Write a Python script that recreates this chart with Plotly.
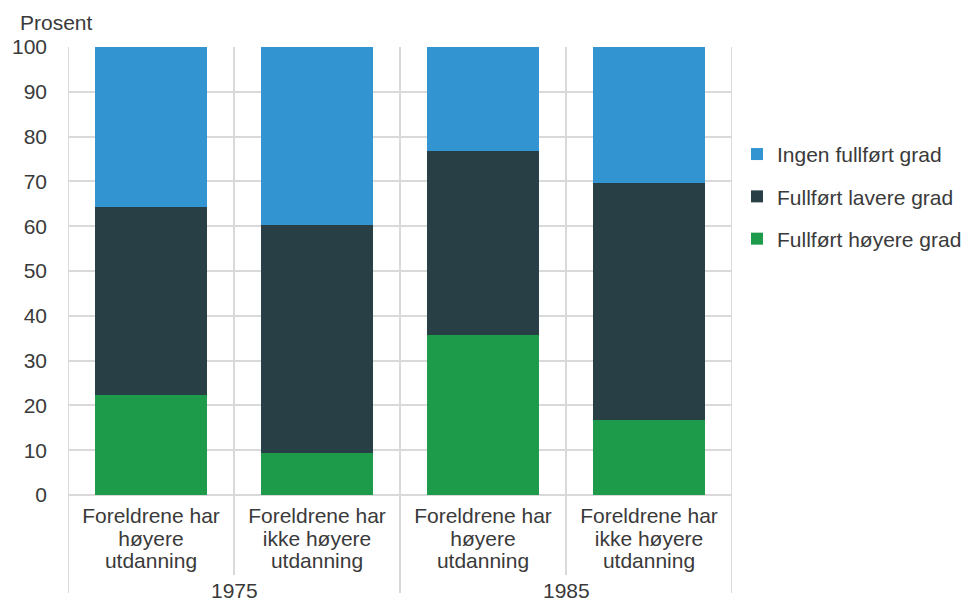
import plotly.graph_objects as go

categories = ["Foreldrene har<br>høyere<br>utdanning",
              "Foreldrene har<br>ikke høyere<br>utdanning",
              "Foreldrene har<br>høyere<br>utdanning",
              "Foreldrene har<br>ikke høyere<br>utdanning"]
years = ["1975", "1985"]
hoyere = [22.3, 9.4, 35.8, 16.8]
lavere = [42.0, 50.8, 41.0, 52.9]
ingen = [35.7, 39.8, 23.2, 30.3]
series_names = ["Fullført høyere grad", "Fullført lavere grad", "Ingen fullført grad"]
colors = ["#1e9b4a", "#273f45", "#3394d2"]
legend_ranks = [3, 2, 1]

TXT = "#3a3a3a"
GRID = "#d9d9d9"
FONT = "Liberation Sans, Arial, sans-serif"

OFF = 8                    # page body margin offset
W, H = 971 - OFF, 601 - OFF
ML, MR, MT, MB = 68 - OFF, 0, 47 - OFF, 106
PW = W - ML - MR           # paper-area width
PH = H - MT - MB           # plot height (448)
XDOM = 664 / PW            # plot spans 68..732 on screen

x = [0, 1, 2, 3]
fig = go.Figure()
for name, vals, col, rk in zip(series_names, [hoyere, lavere, ingen], colors, legend_ranks):
    fig.add_trace(go.Bar(x=x, y=vals, name=name, marker=dict(color=col, line=dict(width=0)),
                         width=0.67, legendgroup=name, legendrank=rk))

ticktext = ['<span style="font-size:21px">' + c + '</span>' for c in categories]

fig.update_layout(
    barmode="stack",
    width=W, height=H,
    margin=dict(l=ML, r=MR, t=MT, b=MB, autoexpand=False),
    plot_bgcolor="white", paper_bgcolor="white",
    font=dict(family=FONT, color=TXT, size=21),
    bargap=0,
    legend=dict(x=(737 - 68) / PW, y=0.806, xanchor="left", yanchor="top",
                traceorder="grouped",
                font=dict(size=21, color=TXT), tracegroupgap=12, itemwidth=30),
    xaxis=dict(domain=[0, XDOM], range=[-0.5, 3.5], tickmode="array", tickvals=x,
               ticktext=ticktext, tickfont=dict(size=17.3, color=TXT), showgrid=False,
               zeroline=False, ticks="", showline=False, automargin=False,
               ticklabelstandoff=10),
    yaxis=dict(range=[0, 100], tickmode="linear", tick0=0, dtick=10, showgrid=True,
               gridcolor=GRID, gridwidth=2, zeroline=False, showline=False,
               tickfont=dict(size=21, color=TXT), ticklabelstandoff=20, automargin=False),
)

# vertical category boundary lines (in plot and below)
for xb in [-0.5, 0.5, 1.5, 2.5, 3.5]:
    y0 = -(106 - OFF) / PH if xb in (-0.5, 1.5, 3.5) else -80 / PH
    fig.add_shape(type="line", xref="x", yref="paper", x0=xb, x1=xb, y0=y0, y1=1,
                  line=dict(color=GRID, width=2), layer="below")
# bottom axis line
fig.add_shape(type="line", xref="x", yref="paper", x0=-0.5, x1=3.5, y0=0, y1=0,
              line=dict(color=GRID, width=2), layer="below")

for i, yr in enumerate(years):
    fig.add_annotation(x=0.5 + 2 * i, y=-95 / PH, xref="x", yref="paper", text=yr,
                       showarrow=False, font=dict(size=21, color=TXT), yanchor="middle")

fig.add_annotation(x=(18 - 68) / PW, y=1 + 25 / PH, xref="paper", yref="paper", text="Prosent",
                   showarrow=False, xanchor="left", yanchor="middle",
                   font=dict(size=21, color=TXT))

fig.write_html("out.html")
